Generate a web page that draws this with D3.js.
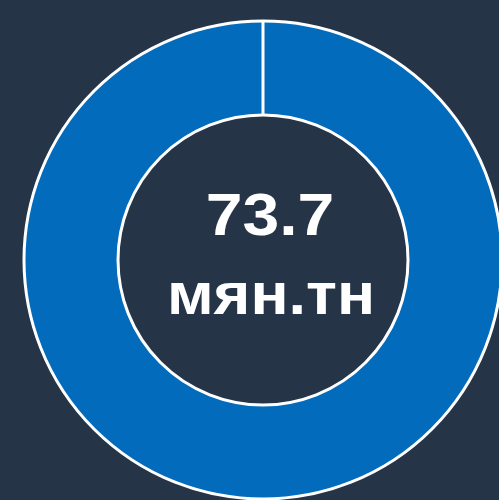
<!DOCTYPE html>
<html>
<head>
<meta charset="utf-8">
<script src="https://cdn.jsdelivr.net/npm/d3@7"></script>
<style>
  html, body { margin: 0; padding: 0; background: #253447; }
  svg { display: block; }
</style>
</head>
<body>
<div id="chart"></div>
<script>
// slice values: the total and an empty remainder (draws the seam at the top)
var sliceNames = ["total", "rest"];
var sliceValues = [73.7, 0];
var centerValue = "73.7";
var centerUnit = "мян.тн";

var width = 499, height = 500;
var cx = 263, cy = 260;
var outerR = 239, innerR = 145;

var svg = d3.select("#chart").append("svg")
    .attr("width", width)
    .attr("height", height);

svg.append("rect")
    .attr("width", width)
    .attr("height", height)
    .attr("fill", "#253447");

var g = svg.append("g")
    .attr("transform", "translate(" + cx + "," + cy + ")");

var pie = d3.pie().sort(null).value(d => d);
var arc = d3.arc().innerRadius(innerR).outerRadius(outerR);

g.selectAll(".slice")
    .data(pie(sliceValues))
    .enter().append("path")
    .attr("class", "slice")
    .attr("d", arc)
    .attr("fill", "#026bbb")
    .attr("stroke", "#ffffff")
    .attr("stroke-width", 3);

// centre labels (the reference glyphs are a bit wide, so stretch them)
g.append("text")
    .attr("transform", "translate(7,-25) scale(1.12,1)")
    .attr("text-anchor", "middle")
    .attr("fill", "#ffffff")
    .style("font-family", "'Liberation Sans', Arial, sans-serif")
    .style("font-weight", "bold")
    .style("font-size", "59px")
    .text(centerValue);

g.append("text")
    .attr("transform", "translate(8,54) scale(1.07,1)")
    .attr("text-anchor", "middle")
    .attr("fill", "#ffffff")
    .style("font-family", "'Liberation Sans', Arial, sans-serif")
    .style("font-weight", "bold")
    .style("font-size", "59px")
    .text(centerUnit);
</script>
</body>
</html>
